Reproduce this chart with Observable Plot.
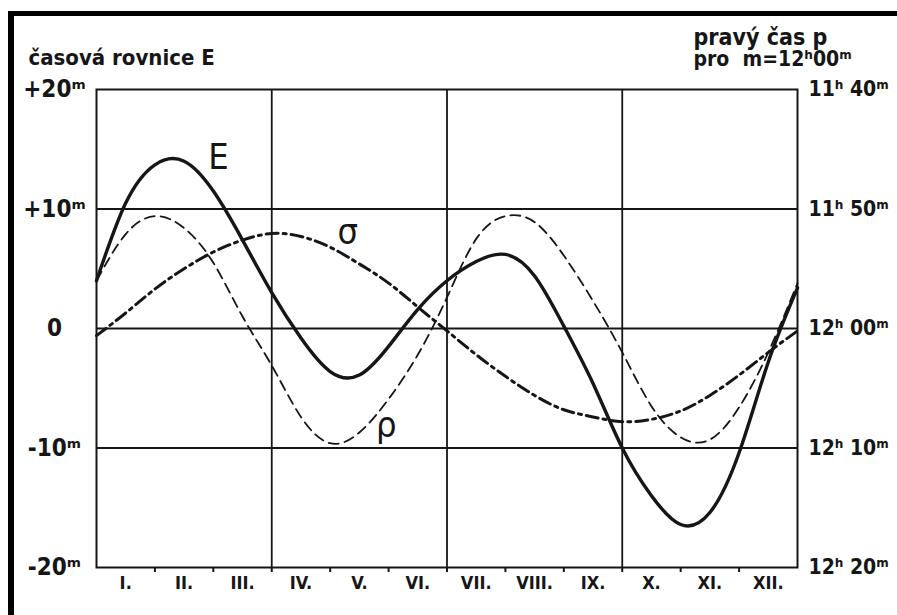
<!DOCTYPE html>
<html>
<head>
<meta charset="utf-8">
<script src="https://cdn.jsdelivr.net/npm/d3@7"></script>
<script src="https://cdn.jsdelivr.net/npm/@observablehq/plot@0.6"></script>
<style>
  html, body { margin: 0; padding: 0; background: #fff; }
  #wrap { position: relative; width: 897px; height: 615px; overflow: hidden; }
  #wrap svg { display: block; }
  #border { position: absolute; left: 8px; top: 11px; width: 889px; height: 604px;
            border-left: 6px solid #000; border-top: 5px solid #000; box-sizing: border-box; pointer-events: none; }
</style>
</head>
<body>
<div id="wrap"><div id="border"></div></div>
<script>
// months (0 = 1 January, 12 = 31 December)
const months = ["I.", "II.", "III.", "IV.", "V.", "VI.", "VII.", "VIII.", "IX.", "X.", "XI.", "XII."];
const t = [0, 0.5, 1, 1.5, 2, 2.5, 3, 3.5, 4, 4.5, 5, 5.5, 6, 6.5, 7, 7.5, 8, 8.5, 9, 9.5, 10, 10.5, 11, 11.5, 12];
// equation of time E (minutes)
const E     = [4.0, 10.5, 13.7, 14.0, 11.5, 7.4, 3.0, -0.8, -3.6, -3.9, -1.5, 1.6, 4.0, 5.6, 6.2, 4.4, 0.2, -4.6, -10.0, -14.0, -16.4, -15.4, -10.4, -2.8, 3.4];
// component ρ (dashed)
const rho   = [4.0, 7.9, 9.4, 8.4, 5.5, 1.0, -3.1, -7.4, -9.6, -8.7, -5.9, -2.2, 2.6, 7.5, 9.4, 8.9, 6.1, 2.3, -2.0, -6.5, -9.1, -9.3, -6.6, -2.0, 3.8];
// component σ (dash-dot)
const sigma = [-0.6, 1.3, 3.3, 5.0, 6.4, 7.4, 7.95, 7.7, 6.8, 5.4, 3.8, 1.8, -0.2, -2.2, -4.0, -5.6, -6.8, -7.4, -7.8, -7.6, -6.9, -5.6, -3.9, -2.0, -0.2];

const yTicks = [20, 10, 0, -10, -20];
const leftLabels  = ["+20ᵐ", "+10ᵐ", "0", "-10ᵐ", "-20ᵐ"];
const rightLabels = ["11ʰ 40ᵐ", "11ʰ 50ᵐ", "12ʰ 00ᵐ", "12ʰ 10ᵐ", "12ʰ 20ᵐ"];

// curve labels: [text, month, minutes]
const curveLabelText = ["E", "σ", "ρ"];
const curveLabelX = [2.09, 4.3, 4.96];
const curveLabelY = [14.3, 8.0, -8.1];

const rows = t.map((m, i) => ({m, E: E[i], rho: rho[i], sigma: sigma[i]}));
const labels = curveLabelText.map((s, i) => ({s, x: curveLabelX[i], y: curveLabelY[i]}));
const monthCenters = months.map((_, i) => i + 0.5);
const monthEdges = d3.range(0, 13);

const font = "'DejaVu Sans Condensed', 'Liberation Sans Narrow', 'DejaVu Sans', sans-serif";
const ink = "#161616";

const chart = Plot.plot({
  width: 897,
  height: 615,
  marginLeft: 96,
  marginRight: 100,
  marginTop: 89,
  marginBottom: 48,
  style: {fontFamily: font, background: "transparent", color: ink},
  x: {domain: [0, 12]},
  y: {domain: [-20, 20]},
  marks: [
    // grid
    Plot.ruleY([-10, 0, 10], {stroke: ink, strokeWidth: 1.8}),
    Plot.ruleX([3, 6, 9], {stroke: ink, strokeWidth: 1.8}),
    Plot.frame({stroke: ink, strokeWidth: 2}),
    // axes
    Plot.axisX({ticks: monthEdges.slice(1, 12), tickSize: 5, tickFormat: () => "", stroke: ink, strokeWidth: 2}),
    Plot.axisX({ticks: monthCenters, tickSize: 0, tickPadding: 9, tickFormat: (d) => months[Math.round(d - 0.5)],
                fontSize: 18, fontWeight: "bold", fill: ink}),
    Plot.axisY({ticks: yTicks, tickSize: 0, textAnchor: "middle", dx: -33,
                tickFormat: (d) => leftLabels[yTicks.indexOf(d)], fontSize: 24, fontWeight: "bold", fill: ink}),
    Plot.axisY({anchor: "right", ticks: yTicks, tickSize: 0, textAnchor: "start", dx: 2,
                tickFormat: (d) => rightLabels[yTicks.indexOf(d)], fontSize: 21, fontWeight: "bold", fill: ink}),
    // curves
    Plot.line(rows, {x: "m", y: "rho", stroke: ink, strokeWidth: 1.8, strokeDasharray: "10,6", curve: "natural"}),
    Plot.line(rows, {x: "m", y: "sigma", stroke: ink, strokeWidth: 3, strokeDasharray: "12,5,3,5", curve: "natural"}),
    Plot.line(rows, {x: "m", y: "E", stroke: ink, strokeWidth: 3.4, curve: "natural"}),
    // curve labels
    Plot.text(labels, {x: "x", y: "y", text: "s", fontSize: 36, fill: ink, fontFamily: font}),
    // titles
    Plot.text(["časová rovnice E"], {frameAnchor: "top-left", textAnchor: "start", lineAnchor: "top",
               dx: -68, dy: -40, fontSize: 22, fontWeight: "bold", fill: ink}),
    Plot.text(["pravý čas p"], {frameAnchor: "top-right", textAnchor: "start", lineAnchor: "top",
               dx: -104, dy: -61, fontSize: 23, fontWeight: "bold", fill: ink}),
    Plot.text(["pro  m=12ʰ00ᵐ"], {frameAnchor: "top-right", textAnchor: "start", lineAnchor: "top",
               dx: -104, dy: -38, fontSize: 21, fontWeight: "bold", fill: ink})
  ]
});
document.getElementById("wrap").prepend(chart);
</script>
</body>
</html>
